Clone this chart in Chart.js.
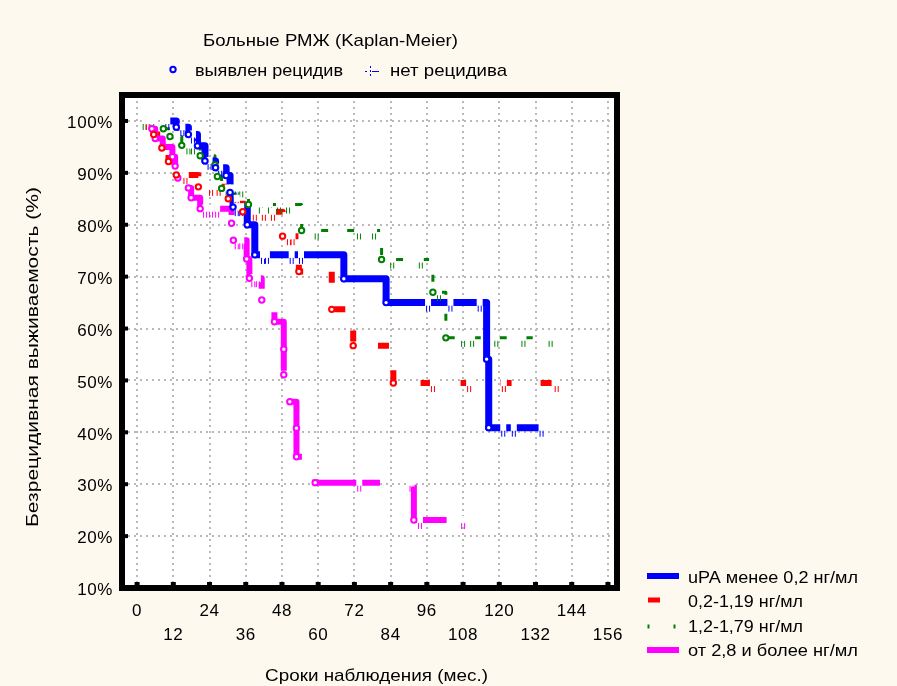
<!DOCTYPE html>
<html>
<head>
<meta charset="utf-8">
<script src="https://cdn.jsdelivr.net/npm/chart.js@4"></script>
<style>
  body { margin: 0; background: #fdf9ee; }
  canvas { display: block; }
</style>
</head>
<body>
<canvas id="kmChart" width="897" height="686"></canvas>
<script>
// axis ticks: months of follow-up, relapse-free survival in %
const monthTicks = [0, 12, 24, 36, 48, 60, 72, 84, 96, 108, 120, 132, 144, 156];
const percentTicks = [10, 20, 30, 40, 50, 60, 70, 80, 90, 100];

const groupLabels = ['uPA менее 0,2 нг/мл', '0,2-1,19 нг/мл', '1,2-1,79 нг/мл', 'от 2,8 и более нг/мл'];

// uPA < 0.2
const blueEventTime = [13, 17, 20, 22.5, 26, 29.5, 30.8, 31.8, 36.5, 39, 68.5, 82.5, 115.8, 116.5];
const blueEventSurv = [98.8, 97.4, 95.2, 92.3, 91.0, 89.5, 86.2, 83.4, 80.0, 74.2, 69.6, 65.0, 54.1, 40.9];
const blueCensorTime = [10, 15, 18.5, 24, 27.5, 33, 34.5, 41.7, 43, 51.2, 54.3, 96.4, 103.8, 113.5, 121.3, 124.8, 134];
const blueCensorSurv = [100, 98.8, 97.4, 92.3, 91.0, 83.4, 83.4, 74.2, 74.2, 74.2, 74.2, 65.0, 65.0, 65.0, 40.9, 40.9, 40.9];

// 0.2-1.19
const redEventTime = [5.5, 8.2, 10.4, 13, 20.3, 30.2, 35, 48.2, 53.6, 64.5, 71.6, 84.9];
const redEventSurv = [97.4, 94.8, 92.2, 89.6, 87.3, 85.0, 82.5, 77.8, 71.0, 63.7, 56.7, 49.5];
const redCensorTime = [3.5, 16, 24.5, 27, 33, 39, 42, 45, 50.3, 51.5, 98, 110, 121.5, 139];
const redCensorSurv = [100, 89.6, 87.3, 87.3, 85.0, 82.5, 82.5, 82.5, 77.8, 77.8, 49.5, 49.5, 49.5, 49.5];

// 1.2-1.79
const greenEventTime = [8.7, 10.9, 14.8, 20.9, 25.8, 26.6, 28, 36.9, 54.5, 81, 98, 102.3];
const greenEventSurv = [98.5, 97.0, 95.3, 93.3, 91.5, 89.3, 87.0, 83.9, 78.9, 73.3, 67.0, 58.2];
const greenCensorTime = [2.5, 5, 17, 18.5, 30, 31.5, 33, 34.5, 41, 44, 47, 50, 59.5, 73.5, 78.5, 84.5, 94, 100, 108, 111, 119, 128, 137];
const greenCensorSurv = [100, 100, 95.3, 95.3, 87.0, 87.0, 87.0, 87.0, 83.9, 83.9, 83.9, 83.9, 78.9, 78.9, 78.9, 73.3, 73.3, 67.0, 58.2, 58.2, 58.2, 58.2, 58.2];

// >= 2.8
const magentaEventTime = [4.9, 6, 8.5, 11.7, 12.6, 13.5, 17, 17.9, 20.9, 31.3, 31.9, 36.3, 37.2, 41.3, 45.5, 48.6, 48.6, 50.6, 52.8, 52.8, 59, 91.7];
const magentaEventSurv = [98.5, 96.6, 95.0, 93.1, 91.3, 89.0, 87.1, 85.2, 83.1, 80.3, 77.0, 73.4, 69.7, 65.5, 61.3, 56.0, 51.1, 45.9, 40.8, 35.3, 30.3, 23.1];
const magentaCensorTime = [22.5, 24.5, 26.5, 33, 34.5, 38.5, 40, 73.6, 90.9, 93.7, 108];
const magentaCensorSurv = [83.1, 83.1, 83.1, 77.0, 77.0, 69.7, 69.7, 30.3, 30.3, 23.1, 23.1];

const FONT = '"Liberation Sans", Arial, sans-serif';
const BG = '#fdf9ee';

const groups = [
  { t: blueEventTime, s: blueEventSurv, ct: blueCensorTime, cs: blueCensorSurv,
    color: '#0000ff', width: 7, dash: [], dashOffset: 0, z: 10 },
  { t: redEventTime, s: redEventSurv, ct: redCensorTime, cs: redCensorSurv,
    color: '#ff0000', width: 6, dash: [11, 29], dashOffset: 25, z: 12 },
  { t: greenEventTime, s: greenEventSurv, ct: greenCensorTime, cs: greenCensorSurv,
    color: '#008000', width: 3, dash: [7, 19], dashOffset: 0, z: 13 },
  { t: magentaEventTime, s: magentaEventSurv, ct: magentaCensorTime, cs: magentaCensorSurv,
    color: '#ff00ff', width: 6, dash: [68, 36], dashOffset: 6, z: 11 }
];

// "no relapse" mark: a white notch in the curve with two thin ticks under it
function censorMark(color) {
  const c = document.createElement('canvas');
  c.width = 12;
  c.height = 22;
  const g = c.getContext('2d');
  g.fillStyle = '#ffffff';
  g.fillRect(3, 7, 6, 8);
  g.fillStyle = color;
  g.fillRect(4, 14, 1, 6);
  g.fillRect(7, 14, 1, 6);
  return c;
}

function stepPoints(g) {
  const pts = [];
  g.t.forEach((t, i) => pts.push({ x: t, y: g.s[i] }));
  g.ct.forEach((t, i) => pts.push({ x: t, y: g.cs[i] }));
  pts.sort((a, b) => a.x - b.x || b.y - a.y);
  return pts;
}

const datasets = [];
groups.forEach((g, k) => {
  datasets.push({
    data: stepPoints(g),
    stepped: 'before',
    borderColor: g.color,
    borderWidth: g.width,
    borderDash: g.dash,
    borderDashOffset: g.dashOffset,
    borderJoinStyle: 'round',
    pointRadius: 0,
    fill: false,
    order: g.z
  });
  datasets.push({
    data: g.ct.map((t, i) => ({ x: t, y: g.cs[i] })),
    showLine: false,
    pointStyle: censorMark(g.color),
    pointRadius: 4,
    order: 5 + k
  });
  datasets.push({
    data: g.t.map((t, i) => ({ x: t, y: g.s[i] })),
    showLine: false,
    pointStyle: 'circle',
    pointRadius: 2.7,
    pointBorderWidth: 2,
    pointBorderColor: g.color,
    pointBackgroundColor: '#ffffff',
    order: 1 + k
  });
});

// writes a string stretched sideways to a given pixel width (left aligned)
function wideText(ctx, text, x, y, width) {
  const w = ctx.measureText(text).width;
  ctx.save();
  ctx.translate(x, y);
  ctx.scale(width / w, 1);
  ctx.textAlign = 'left';
  ctx.fillText(text, 0, 0);
  ctx.restore();
}

const plotFrame = {
  id: 'plotFrame',
  beforeDraw(chart) {
    const { ctx, chartArea: a } = chart;
    ctx.save();
    ctx.fillStyle = BG;
    ctx.fillRect(0, 0, chart.width, chart.height);
    ctx.fillStyle = '#ffffff';
    ctx.fillRect(a.left, a.top, a.right - a.left, a.bottom - a.top);
    ctx.restore();
    ctx.letterSpacing = '0.6px';
  },
  afterDraw(chart) {
    const { ctx, chartArea: a, scales } = chart;
    ctx.letterSpacing = '0px';
    ctx.save();

    // heavy frame and inner tick marks
    ctx.strokeStyle = '#000';
    ctx.lineWidth = 6;
    ctx.strokeRect(a.left, a.top, a.right - a.left, a.bottom - a.top);
    ctx.fillStyle = '#000';
    monthTicks.forEach(v => {
      const x = scales.x.getPixelForValue(v);
      ctx.fillRect(x - 2.5, a.bottom - 6, 5, 3);
    });
    percentTicks.forEach(v => {
      const y = scales.y.getPixelForValue(v);
      ctx.fillRect(a.left + 3, y - 2, 3, 4);
    });

    ctx.fillStyle = '#000';
    ctx.font = '17px ' + FONT;
    ctx.textBaseline = 'middle';

    // header and marker key
    wideText(ctx, 'Больные РМЖ (Kaplan-Meier)', 203, 41, 255);
    wideText(ctx, 'выявлен рецидив', 195, 71, 148);
    wideText(ctx, 'нет рецидива', 390, 71, 117);

    ctx.strokeStyle = '#0000ff';
    ctx.lineWidth = 2;
    ctx.beginPath();
    ctx.arc(173, 69.5, 2.7, 0, Math.PI * 2);
    ctx.stroke();
    ctx.lineWidth = 1;
    ctx.setLineDash([2, 2]);
    ctx.beginPath();
    ctx.moveTo(370.5, 66);
    ctx.lineTo(370.5, 78);
    ctx.stroke();
    ctx.setLineDash([]);
    ctx.beginPath();
    ctx.moveTo(372, 71.5);
    ctx.lineTo(379, 71.5);
    ctx.moveTo(365, 71.5);
    ctx.lineTo(367, 71.5);
    ctx.stroke();

    // axis titles
    wideText(ctx, 'Сроки наблюдения (мес.)', 265, 676, 223);
    ctx.save();
    ctx.translate(33, 527);
    ctx.rotate(-Math.PI / 2);
    wideText(ctx, 'Безрецидивная выживаемость (%)', 0, 0, 340);
    ctx.restore();

    // series key, bottom right
    const keyY = [576, 600, 626.5, 650];
    const textY = [578.5, 602.5, 627, 651.3];
    const textW = [170, 115, 115, 170];
    groups.forEach((g, k) => {
      ctx.fillStyle = g.color;
      if (k === 1) {
        ctx.fillRect(648, keyY[k] - 2.5, 12, 5);
      } else if (k === 2) {
        ctx.fillRect(647.5, keyY[k] - 2, 2, 4);
        ctx.fillRect(673.5, keyY[k] - 2, 2, 4);
      } else {
        ctx.fillRect(647, keyY[k] - 3, 32, 6);
      }
      ctx.fillStyle = '#000';
      wideText(ctx, groupLabels[k], 688, textY[k], textW[k]);
    });

    ctx.restore();
  }
};

new Chart(document.getElementById('kmChart'), {
  type: 'line',
  data: { datasets: datasets },
  plugins: [plotFrame],
  options: {
    responsive: false,
    animation: false,
    devicePixelRatio: 1,
    events: [],
    layout: { padding: { top: 95, right: 280, bottom: 0, left: 0 } },
    plugins: { legend: { display: false }, tooltip: { enabled: false } },
    scales: {
      x: {
        type: 'linear',
        min: -5,
        max: 159,
        afterBuildTicks: s => { s.ticks = monthTicks.map(v => ({ value: v })); },
        afterFit: s => { s.height = 98; },
        grid: { color: '#b9b9b9', lineWidth: 2, drawTicks: false },
        border: { display: false, dash: [2, 4] },
        ticks: {
          color: '#000',
          padding: 11,
          maxRotation: 0,
          autoSkip: false,
          font: { family: FONT, size: 17, lineHeight: '24px' },
          callback: (v, i) => i % 2 === 0 ? [String(v), ''] : ['', String(v)]
        }
      },
      y: {
        type: 'linear',
        min: 10,
        max: 105,
        afterBuildTicks: s => { s.ticks = percentTicks.map(v => ({ value: v })); },
        afterFit: s => { s.width = 122; },
        grid: { color: '#b9b9b9', lineWidth: 2, drawTicks: false },
        border: { display: false, dash: [2, 4] },
        ticks: {
          color: '#000',
          padding: 9,
          labelOffset: 2.5,
          font: { family: FONT, size: 17 },
          callback: v => v + '%'
        }
      }
    }
  }
});
</script>
</body>
</html>
